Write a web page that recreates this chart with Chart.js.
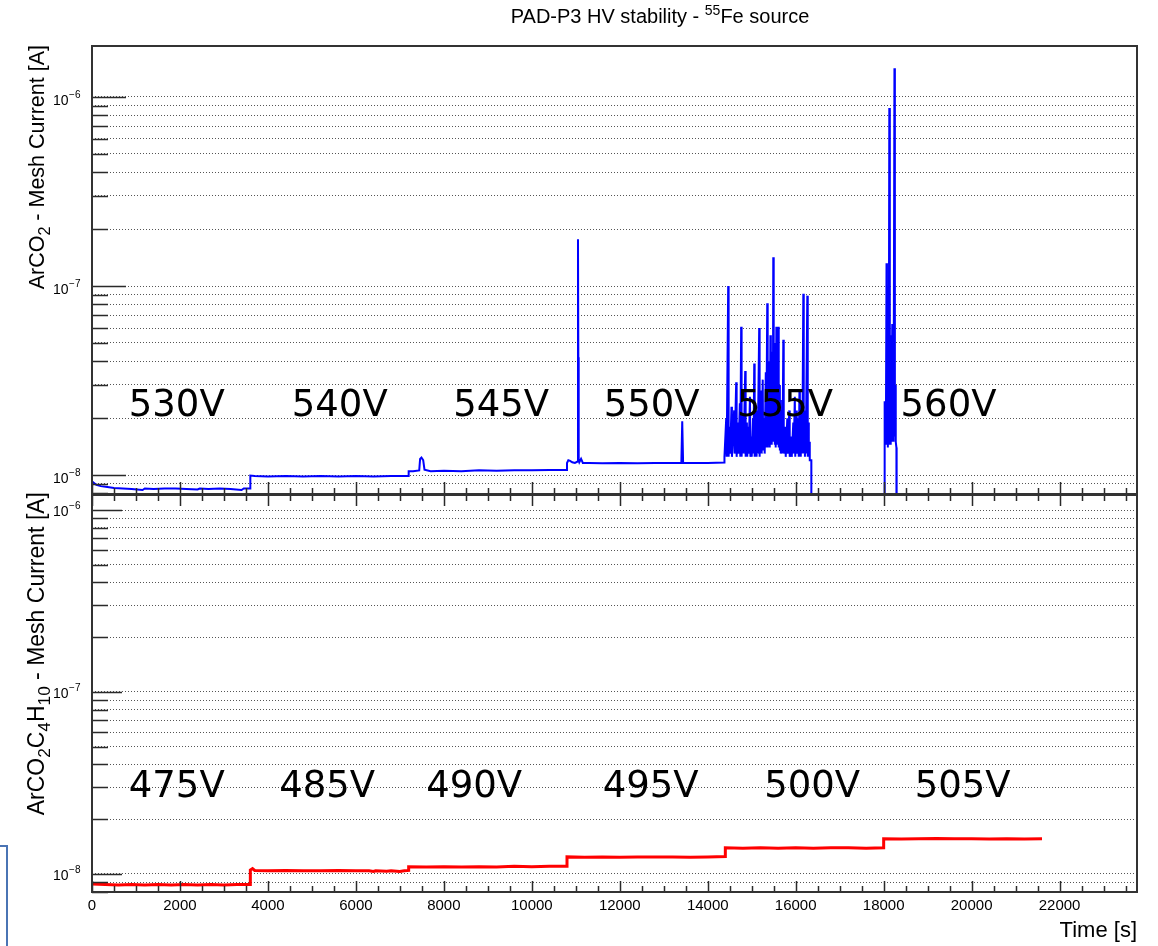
<!DOCTYPE html>
<html>
<head>
<meta charset="utf-8">
<script src="https://cdn.jsdelivr.net/npm/chart.js@4/dist/chart.umd.min.js"></script>
<style>
html,body{margin:0;padding:0;background:#fff;}
#wrap{position:relative;width:1158px;height:946px;overflow:hidden;background:#fff;}
#c1{position:absolute;left:0;top:0;width:1158px;height:500px;}
#c2{position:absolute;left:0;top:480px;width:1158px;height:466px;}
#box{position:absolute;left:-30px;top:845px;width:38px;height:200px;box-sizing:border-box;border:2px solid #4a74b4;}
</style>
</head>
<body>
<div id="wrap">
<canvas id="c1" width="1158" height="500"></canvas>
<canvas id="c2" width="1158" height="466"></canvas>
<div id="box"></div>
</div>
<script>
// ================= DATA =================
// ArCO2 mesh current [A] vs time [s], one array per HV step
const arco2_530V = [[0,9.3e-9],[40,9.1e-9],[100,8.9e-9],[200,8.75e-9],[350,8.65e-9],[500,8.55e-9],[700,8.5e-9],[900,8.45e-9],[1150,8.35e-9],[1200,8.5e-9],[1400,8.45e-9],[1650,8.5e-9],[1900,8.5e-9],[2150,8.45e-9],[2400,8.4e-9],[2450,8.5e-9],[2650,8.45e-9],[2900,8.5e-9],[3150,8.45e-9],[3400,8.35e-9],[3450,8.5e-9],[3600,8.5e-9]];
const arco2_540V = [[3600,9.95e-9],[3700,9.9e-9],[4000,9.85e-9],[4400,9.9e-9],[4800,9.85e-9],[5200,9.9e-9],[5600,9.85e-9],[6000,9.9e-9],[6400,9.85e-9],[6800,9.9e-9],[7200,9.9e-9]];
const arco2_545V = [[7200,1.05e-8],[7300,1.05e-8],[7440,1.06e-8],[7460,1.22e-8],[7490,1.24e-8],[7530,1.2e-8],[7560,1.07e-8],[7700,1.05e-8],[8000,1.055e-8],[8400,1.05e-8],[8800,1.06e-8],[9200,1.055e-8],[9600,1.06e-8],[10000,1.06e-8],[10400,1.065e-8],[10800,1.065e-8]];
const arco2_550V = [[10800,1.16e-8],[10830,1.2e-8],[10870,1.19e-8],[10920,1.17e-8],[10980,1.16e-8],[11040,1.18e-8],[11050,1.77e-7],[11058,4.2e-8],[11066,1.2e-8],[11080,1.17e-8],[11120,1.22e-8],[11160,1.16e-8],[11300,1.16e-8],[11600,1.155e-8],[12000,1.16e-8],[12400,1.155e-8],[12800,1.16e-8],[13200,1.16e-8],[13400,1.16e-8],[13420,1.93e-8],[13440,1.16e-8],[13700,1.16e-8],[14000,1.16e-8],[14380,1.165e-8]];
const arco2_555V = [[14380,1.25e-8],[14420,2.0e-8],[14430,1.25e-8],[14465,1.0e-7],[14475,1.25e-8],[14500,1.8e-8],[14510,1.3e-8],[14540,2.3e-8],[14550,1.25e-8],[14600,2.2e-8],[14610,1.3e-8],[14647,3.1e-8],[14657,1.25e-8],[14692,1.9e-8],[14700,1.3e-8],[14730,2.4e-8],[14740,1.25e-8],[14760,6.1e-8],[14770,1.25e-8],[14806,2.1e-8],[14815,1.3e-8],[14852,3.55e-8],[14862,1.25e-8],[14890,1.9e-8],[14898,1.25e-8],[14920,1.8e-8],[14930,1.3e-8],[14960,2.6e-8],[14970,1.25e-8],[14989,1.6e-8],[15000,1.25e-8],[15030,2.0e-8],[15040,1.3e-8],[15057,3.9e-8],[15067,1.25e-8],[15100,2.2e-8],[15110,1.25e-8],[15125,1.7e-8],[15135,1.3e-8],[15170,6.0e-8],[15180,1.25e-8],[15200,2.8e-8],[15208,1.3e-8],[15216,2.5e-8],[15226,1.3e-8],[15250,3.2e-8],[15260,1.35e-8],[15285,2.0e-8],[15295,1.3e-8],[15320,3.5e-8],[15330,1.4e-8],[15353,8.1e-8],[15363,1.4e-8],[15380,4.0e-8],[15390,1.45e-8],[15398,3.0e-8],[15410,1.4e-8],[15425,5.5e-8],[15435,1.5e-8],[15444,4.5e-8],[15455,1.45e-8],[15470,3.8e-8],[15480,1.5e-8],[15490,1.42e-7],[15500,1.5e-8],[15515,5.0e-8],[15525,1.45e-8],[15535,3.5e-8],[15545,1.4e-8],[15560,6.1e-8],[15570,1.5e-8],[15581,5.0e-8],[15590,1.45e-8],[15604,6.1e-8],[15614,1.4e-8],[15630,3.0e-8],[15640,1.35e-8],[15649,2.5e-8],[15660,1.3e-8],[15690,2.2e-8],[15700,1.3e-8],[15718,5.2e-8],[15728,1.3e-8],[15763,1.8e-8],[15773,1.25e-8],[15809,2.0e-8],[15819,1.3e-8],[15854,2.2e-8],[15864,1.25e-8],[15900,1.6e-8],[15910,1.25e-8],[15945,1.9e-8],[15955,1.3e-8],[15980,2.6e-8],[15990,1.25e-8],[16014,2.2e-8],[16024,1.3e-8],[16059,2.0e-8],[16069,1.25e-8],[16085,2.8e-8],[16095,1.3e-8],[16105,1.7e-8],[16115,1.25e-8],[16140,2.4e-8],[16150,1.3e-8],[16173,9.1e-8],[16183,1.3e-8],[16200,2.2e-8],[16210,1.25e-8],[16219,2.0e-8],[16229,1.3e-8],[16264,8.9e-8],[16274,1.25e-8],[16290,1.9e-8],[16298,1.25e-8],[16310,1.5e-8],[16320,1.2e-8],[16355,1.2e-8],[16356,1e-10]];
const arco2_560V = [[18010,1e-10],[18015,2.46e-8],[18030,1.5e-8],[18040,2.4e-8],[18050,1.45e-8],[18065,1.32e-7],[18075,1.5e-8],[18085,5e-8],[18095,1.4e-8],[18105,4.5e-8],[18115,1.45e-8],[18128,8.75e-7],[18140,1.5e-8],[18150,5.5e-8],[18160,1.45e-8],[18170,4e-8],[18180,1.5e-8],[18195,6.3e-8],[18205,1.6e-8],[18215,4.8e-8],[18225,1.5e-8],[18245,1.42e-6],[18255,1.6e-8],[18265,3e-8],[18275,1.5e-8],[18290,1.4e-8],[18295,1e-10]];

// ArCO2C4H10 mesh current [A] vs time [s]
const iso_475V = [[0,8.8e-9],[300,8.75e-9],[600,8.7e-9],[900,8.75e-9],[1200,8.7e-9],[1500,8.75e-9],[1800,8.7e-9],[2100,8.75e-9],[2400,8.7e-9],[2700,8.75e-9],[3000,8.7e-9],[3300,8.75e-9],[3600,8.75e-9]];
const iso_485V = [[3600,1.05e-8],[3650,1.07e-8],[3700,1.045e-8],[4000,1.04e-8],[4400,1.045e-8],[4800,1.04e-8],[5200,1.04e-8],[5600,1.045e-8],[6000,1.04e-8],[6300,1.04e-8],[6400,1.03e-8],[6450,1.04e-8],[6700,1.035e-8],[6800,1.04e-8],[7000,1.03e-8],[7100,1.04e-8],[7200,1.045e-8]];
const iso_490V = [[7200,1.095e-8],[7600,1.09e-8],[8000,1.095e-8],[8400,1.09e-8],[8800,1.095e-8],[9200,1.09e-8],[9600,1.1e-8],[10000,1.095e-8],[10400,1.1e-8],[10800,1.1e-8]];
const iso_495V = [[10800,1.24e-8],[11200,1.235e-8],[11600,1.24e-8],[12000,1.235e-8],[12400,1.24e-8],[12800,1.24e-8],[13200,1.24e-8],[13600,1.235e-8],[14000,1.24e-8],[14400,1.245e-8]];
const iso_500V = [[14400,1.39e-8],[14800,1.385e-8],[15200,1.39e-8],[15600,1.385e-8],[16000,1.39e-8],[16400,1.385e-8],[16800,1.39e-8],[17200,1.39e-8],[17600,1.385e-8],[18000,1.39e-8]];
const iso_505V = [[18000,1.56e-8],[18400,1.555e-8],[18800,1.56e-8],[19200,1.565e-8],[19600,1.56e-8],[20000,1.56e-8],[20400,1.555e-8],[20800,1.56e-8],[21200,1.555e-8],[21600,1.56e-8]];

const hvArCO2 = ['530V','540V','545V','550V','555V','560V'];
const hvArCO2C4H10 = ['475V','485V','490V','495V','500V','505V'];

const timeTickLabels = [0,2000,4000,6000,8000,10000,12000,14000,16000,18000,20000,22000];
const currentDecades = [1e-8,1e-7,1e-6];
const currentDecadeExponents = ['\u22128','\u22127','\u22126'];

// ================= CHART SETUP =================
const FAMILY = '"Liberation Sans", Arial, Helvetica, sans-serif';
Chart.defaults.font.family = FAMILY;
Chart.defaults.color = '#000';

const T_MAX = 23760;
const xTickValues = [];
for (let v = 0; v <= T_MAX; v += 500) xTickValues.push(v);

function isDecade(v){ const l = Math.log10(v); return Math.abs(l - Math.round(l)) < 1e-9; }
function yTicksFor(min, max){
  const out = [];
  [1e-9,1e-8,1e-7,1e-6].forEach(d => { for (let m = 1; m <= 9; m++){ const v = m*d; if (v >= min*0.9999 && v <= max*1.0001) out.push(v); } });
  return out;
}
function toXY(arrs){ const out=[]; arrs.forEach(a => a.forEach(p => out.push({x:p[0], y:p[1]}))); return out; }

function richWidth(ctx, parts, size, ratio){
  let w = 0;
  parts.forEach(p => { ctx.font = (p[1] ? size*ratio : size) + 'px ' + FAMILY; w += ctx.measureText(p[0]).width; });
  return w;
}
function drawRich(ctx, parts, x, y, size, ratio){
  let cx = x;
  parts.forEach(p => {
    const s = p[1] ? size*ratio : size;
    ctx.font = s + 'px ' + FAMILY;
    const dy = p[1] === 'sub' ? size*0.28 : (p[1] === 'sup' ? -size*0.42 : 0);
    ctx.fillText(p[0], cx, y + dy);
    cx += ctx.measureText(p[0]).width;
  });
}

const rootStyle = {
  id: 'rootStyle',
  afterDatasetsDraw(chart, args, o){
    const {ctx, chartArea: a, scales: {x, y}} = chart;
    ctx.save();
    // inward tick marks
    ctx.strokeStyle = '#2a2a2a';
    ctx.lineWidth = 1.5;
    ctx.beginPath();
    y.ticks.forEach(t => {
      const py = Math.round(y.getPixelForValue(t.value)) + 0.5;
      const len = isDecade(t.value) ? o.yMajor : o.yMinor;
      ctx.moveTo(a.left, py); ctx.lineTo(a.left + len, py);
    });
    x.ticks.forEach(t => {
      const px = Math.round(x.getPixelForValue(t.value)) + 0.5;
      const major = t.value % 2000 === 0;
      const len = major ? o.xMajor : o.xMinor;
      ctx.moveTo(px, a.bottom); ctx.lineTo(px, a.bottom - len);
      if (o.xTop) { ctx.moveTo(px, a.top); ctx.lineTo(px, a.top + len); }
    });
    ctx.stroke();
    // frame
    ctx.lineWidth = 2;
    ctx.strokeStyle = '#333';
    ctx.strokeRect(a.left, a.top, a.right - a.left, a.bottom - a.top);
    // y tick labels: 10 with raised exponent
    ctx.fillStyle = '#000';
    ctx.textAlign = 'left';
    ctx.textBaseline = 'alphabetic';
    currentDecades.forEach((d, i) => {
      const py = y.getPixelForValue(d);
      if (py < a.top - 1 || py > a.bottom + 1) return;
      ctx.font = '14px ' + FAMILY;
      const w1 = ctx.measureText('10').width;
      ctx.font = '10px ' + FAMILY;
      const w2 = ctx.measureText(currentDecadeExponents[i]).width;
      const x0 = a.left - 12 - w1 - w2;
      ctx.font = '14px ' + FAMILY;
      ctx.fillText('10', x0, py + o.labelDy);
      ctx.font = '10px ' + FAMILY;
      ctx.fillText(currentDecadeExponents[i], x0 + w1 + 0.5, py + o.labelDy - 7);
    });
    // HV annotations
    ctx.font = '37px "DejaVu Sans", sans-serif';
    ctx.textAlign = 'center';
    ctx.textBaseline = 'middle';
    o.labels.forEach((s, i) => ctx.fillText(s, x.getPixelForValue(o.labelTimes[i]), y.getPixelForValue(o.labelLevel)));
    // y axis title (rotated, with subscripts)
    ctx.textAlign = 'left';
    ctx.textBaseline = 'alphabetic';
    const W = richWidth(ctx, o.yTitle, o.yTitleSize, 0.75);
    ctx.save();
    ctx.translate(o.yTitleX, o.yTitleEnd);
    ctx.rotate(-Math.PI/2);
    drawRich(ctx, o.yTitle, -W, 0, o.yTitleSize, 0.75);
    ctx.restore();
    // main title
    if (o.title) {
      const tw = richWidth(ctx, o.title, o.titleSize, 0.7);
      drawRich(ctx, o.title, o.titleCenter - tw/2, o.titleBaseline, o.titleSize, 0.7);
    }
    ctx.restore();
  }
};

function makeChart(canvas, cfg){
  return new Chart(canvas, {
    type: 'line',
    data: { datasets: [{
      data: cfg.data, borderColor: cfg.color, borderWidth: cfg.lineWidth,
      pointRadius: 0, tension: 0, fill: false
    }]},
    options: {
      responsive: false, animation: false, events: [],
      layout: { padding: { left: 0, right: 21, top: cfg.padTop, bottom: 0 } },
      plugins: {
        legend: { display: false }, tooltip: { enabled: false }, title: { display: false },
        rootStyle: cfg.style
      },
      scales: {
        x: {
          type: 'linear', min: 0, max: T_MAX,
          afterBuildTicks: s => { s.ticks = xTickValues.map(v => ({ value: v })); },
          ticks: {
            display: cfg.showX, autoSkip: false, maxRotation: 0, minRotation: 0, padding: 5,
            font: { size: 15 }, color: '#000',
            callback: v => (timeTickLabels.includes(v) ? String(v) : '')
          },
          grid: { display: false, drawTicks: false },
          border: { display: false },
          title: { display: cfg.showX, text: 'Time [s]', align: 'end', color: '#000',
                   font: { size: 22 }, padding: { top: 0, bottom: 2 } },
          afterFit: s => { s.height = cfg.xHeight; s.paddingLeft = 0; s.paddingRight = 0; }
        },
        y: {
          type: 'logarithmic', min: cfg.yMin, max: cfg.yMax,
          afterBuildTicks: s => { s.ticks = yTicksFor(cfg.yMin, cfg.yMax).map(v => ({ value: v, major: isDecade(v) })); },
          ticks: { display: false, autoSkip: false },
          grid: { color: '#555', lineWidth: 1, drawTicks: false },
          border: { display: false, dash: [1, 2] },
          afterFit: s => { s.width = 92; s.paddingTop = 0; s.paddingBottom = 0; }
        }
      }
    },
    plugins: [rootStyle]
  });
}

makeChart(document.getElementById('c1'), {
  data: toXY([arco2_530V, arco2_540V, arco2_545V, arco2_550V, arco2_555V, arco2_560V]),
  color: '#0000ff', lineWidth: 2,
  padTop: 46, xHeight: 6, showX: false,
  yMin: 7.95e-9, yMax: 1.86e-6,
  style: {
    yMajor: 34, yMinor: 16, xMajor: 12, xMinor: 6, xTop: false, labelDy: 8,
    labels: hvArCO2, labelTimes: [1927, 5633, 9304, 12725, 15758, 19475], labelLevel: 2.32e-8,
    yTitle: [['ArCO'], ['2', 'sub'], [' - Mesh Current [A]']], yTitleSize: 21.5, yTitleX: 44, yTitleEnd: 45,
    title: [['PAD-P3 HV stability - '], ['55', 'sup'], ['Fe source']], titleSize: 20, titleCenter: 660, titleBaseline: 23
  }
});

makeChart(document.getElementById('c2'), {
  data: toXY([iso_475V, iso_485V, iso_490V, iso_495V, iso_500V, iso_505V]),
  color: '#ff0000', lineWidth: 3,
  padTop: 15, xHeight: 54, showX: true,
  yMin: 7.95e-9, yMax: 1.21e-6,
  style: {
    yMajor: 30, yMinor: 16, xMajor: 11, xMinor: 6, xTop: true, labelDy: 6,
    labels: hvArCO2C4H10, labelTimes: [1927, 5348, 8689, 12702, 16374, 19795], labelLevel: 3.0e-8,
    yTitle: [['ArCO'], ['2', 'sub'], ['C'], ['4', 'sub'], ['H'], ['10', 'sub'], [' - Mesh Current [A]']], yTitleSize: 23, yTitleX: 44, yTitleEnd: 12,
    title: null
  }
});
</script>
</body>
</html>
